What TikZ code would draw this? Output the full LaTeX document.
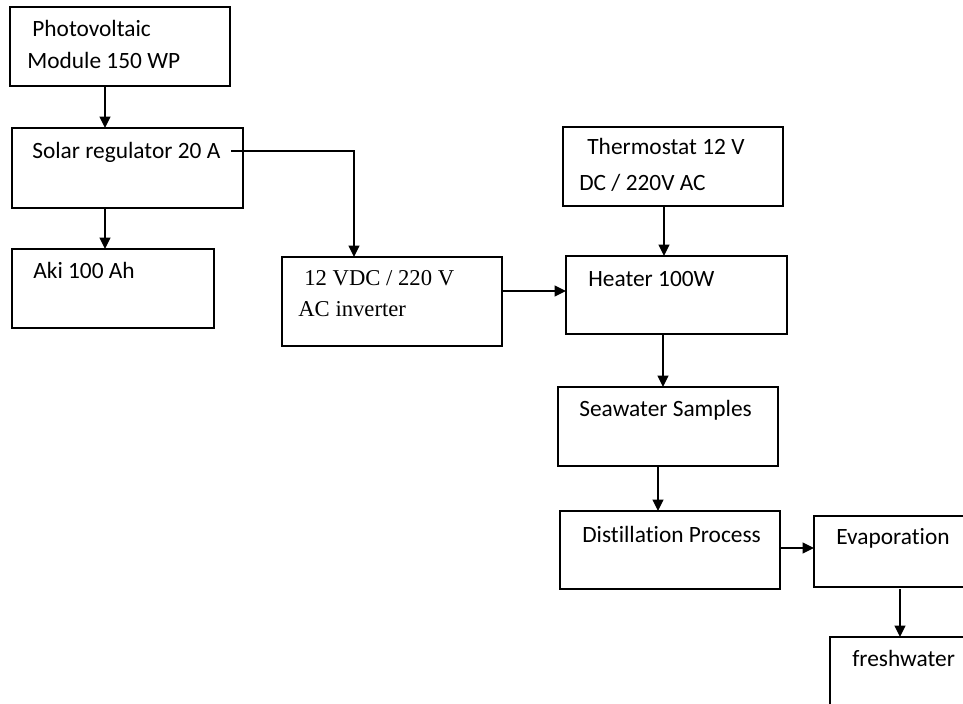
\documentclass[tikz,border=0pt]{standalone}
\usepackage{fontspec}
\setmainfont[Ligatures=NoCommon]{Carlito}
\newfontfamily\timesfont{Liberation Serif}
\usetikzlibrary{
	arrows.meta,
}

\begin{document}
\begin{tikzpicture}[x=0.02cm,y=-0.02cm]
		\tikzset{
			blk/.style 2 args={draw, line width=0.8pt, anchor=north west, inner sep=0pt, outer sep=0pt,
				minimum width=#1*0.02cm, minimum height=#2*0.02cm},
			txt/.style={anchor=base west, inner sep=0pt, align=left, font=\fontsize{13.3}{18}\selectfont},
			arr/.style={line width=0.8pt, -{Triangle[length=0.23cm, width=0.22cm]}},
		}
		\useasboundingbox (0,0) rectangle (963,703);
		\clip (0,0) rectangle (963,703);
		% boxes
		\node [blk={220}{79}] (pv) at (10,7) {};
		\node [blk={231}{80}] (reg) at (12,128) {};
		\node [blk={202}{79}] (aki) at (12,249) {};
		\node [blk={220}{89}] (inv) at (282,257) {};
		\node [blk={220}{79}] (thermo) at (563,127) {};
		\node [blk={221}{78}] (heat) at (566,256) {};
		\node [blk={220}{79}] (sea) at (558,387) {};
		\node [blk={220}{78}] (dist) at (560,511) {};
		\node [blk={200}{71}] (evap) at (814,516) {};
		\node [blk={200}{100}] (fresh) at (830,637) {};
		% texts (base anchor sits on the last line)
		\node [txt] (pvtxt) at (27,68) {\hspace{0.1cm}Photovoltaic\\Module 150 WP};
		\node [txt] (regtxt) at (32,158) {Solar regulator 20 A};
		\node [txt] (akitxt) at (33,278) {Aki 100 Ah};
		\node [txt, font=\timesfont\fontsize{12.9}{17.5}\selectfont] (invtxt) at (298,316) {\hspace{0.12cm}12 VDC / 220 V\\AC inverter};
		\node [txt, font=\fontsize{13.3}{20}\selectfont] (thermotxt) at (579,190) {\hspace{0.16cm}Thermostat 12 V\\DC / 220V AC};
		\node [txt] (heattxt) at (588,286) {Heater 100W};
		\node [txt] (seatxt) at (579,416) {Seawater Samples};
		\node [txt] (disttxt) at (582,542) {Distillation Process};
		\node [txt] (evaptxt) at (836,544) {Evaporation};
		\node [txt] (freshtxt) at (852,666) {freshwater};
		% connectors
		\draw [arr] (pv.south -| 105,0) -- (reg.north -| 105,0);
		\draw [arr] (reg.south -| 105,0) -- (aki.north -| 105,0);
		\draw [arr] ([shift={(-12,23)}]reg.north east) -| (inv.north -| 354,0);
		\draw [arr] (inv.east |- 0,291) -- (heat.west |- 0,291);
		\draw [arr] (thermo.south -| 664,0) -- (heat.north -| 664,0);
		\draw [arr] (heat.south -| 663,0) -- (sea.north -| 663,0);
		\draw [arr] (sea.south -| 658,0) -- (dist.north -| 658,0);
		\draw [arr] (dist.east |- 0,548) -- (evap.west |- 0,548);
		\draw [arr] ([yshift=-2*0.02cm]evap.south -| 900,0) -- (fresh.north -| 900,0);
\end{tikzpicture}
\end{document}
